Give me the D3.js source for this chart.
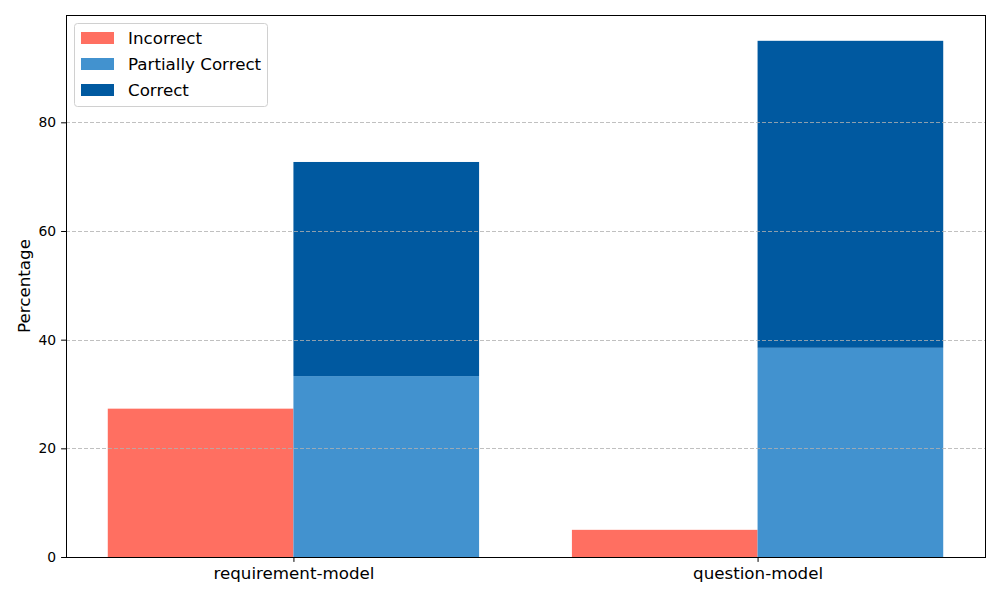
<!DOCTYPE html>
<html>
<head>
<meta charset="utf-8">
<script src="https://cdn.jsdelivr.net/npm/d3@7"></script>
<style>
  body { margin: 0; background: #fff; }
  text { font-family: "DejaVu Sans", sans-serif; }
</style>
</head>
<body>
<div id="chart"></div>
<script>
// data
var categories = ['requirement-model', 'question-model'];
var incorrect = [27.3, 5.0];
var partial = [33.3, 38.5];
var correct = [39.4, 56.5];
var yTicks = [0, 20, 40, 60, 80];

var colors = {
    incorrect: '#ff6f61',
    partial: '#4292cf',
    correct: '#0059a0'
};

var W = 1000, H = 600;
// plot area edges (note: "top" clashes with window.top, so prefix them)
var pLeft = 66, pRight = 985, pTop = 15, pBottom = 557;

var svg = d3.select('#chart')
    .append('svg')
        .attr('width', W)
        .attr('height', H);

// category positions 0, 1 with bars of width 0.4 either side
var x = d3.scaleLinear().domain([-0.49, 1.49]).range([pLeft, pRight]);
var y = d3.scaleLinear().domain([0, 99.75]).range([pBottom, pTop]);
var barW = 0.4;

var idx = d3.range(categories.length);

// incorrect bars, left of the tick
svg.append('g').selectAll('rect')
    .data(idx)
    .enter().append('rect')
        .attr('x', function (i) { return x(i - barW); })
        .attr('width', function () { return x(barW) - x(0); })
        .attr('y', function (i) { return y(incorrect[i]); })
        .attr('height', function (i) { return y(0) - y(incorrect[i]); })
        .attr('fill', colors.incorrect);

// partial bars, right of the tick
svg.append('g').selectAll('rect')
    .data(idx)
    .enter().append('rect')
        .attr('x', function (i) { return x(i); })
        .attr('width', function () { return x(barW) - x(0); })
        .attr('y', function (i) { return y(partial[i]); })
        .attr('height', function (i) { return y(0) - y(partial[i]); })
        .attr('fill', colors.partial);

// correct stacked on partial
svg.append('g').selectAll('rect')
    .data(idx)
    .enter().append('rect')
        .attr('x', function (i) { return x(i); })
        .attr('width', function () { return x(barW) - x(0); })
        .attr('y', function (i) { return y(partial[i] + correct[i]); })
        .attr('height', function (i) { return y(partial[i]) - y(partial[i] + correct[i]); })
        .attr('fill', colors.correct);

// grid on top of bars
svg.append('g').selectAll('line')
    .data(yTicks.slice(1))
    .enter().append('line')
        .attr('x1', pLeft)
        .attr('x2', pRight)
        .attr('y1', function (d) { return Math.round(y(d)) + 0.5; })
        .attr('y2', function (d) { return Math.round(y(d)) + 0.5; })
        .attr('stroke', '#b0b0b0')
        .attr('stroke-opacity', 0.8)
        .attr('stroke-width', 1)
        .attr('stroke-dasharray', '4,2');

// axes
var yAxis = d3.axisLeft(y).tickValues(yTicks).tickSize(4.9).tickPadding(5);
svg.append('g')
    .attr('transform', 'translate(' + pLeft + ',0)')
    .call(yAxis)
    .call(function (g) {
        g.select('.domain').remove();
        g.selectAll('text').attr('font-size', 13.9).attr('fill', '#000')
            .style('font-family', '"DejaVu Sans", sans-serif');
        g.selectAll('line').attr('stroke', '#000').attr('stroke-width', 1);
    });

var xAxis = d3.axisBottom(x).tickValues(idx)
    .tickFormat(function (i) { return categories[i]; })
    .tickSize(4.9).tickPadding(5);
svg.append('g')
    .attr('transform', 'translate(0,' + pBottom + ')')
    .call(xAxis)
    .call(function (g) {
        g.select('.domain').remove();
        g.selectAll('text').attr('font-size', 16.7).attr('fill', '#000')
            .style('font-family', '"DejaVu Sans", sans-serif');
        g.selectAll('line').attr('stroke', '#000').attr('stroke-width', 1);
    });

// frame
svg.append('rect')
    .attr('x', pLeft + 0.5)
    .attr('y', pTop + 0.5)
    .attr('width', pRight - pLeft)
    .attr('height', pBottom - pTop)
    .attr('fill', 'none')
    .attr('stroke', '#000')
    .attr('stroke-width', 1);

svg.append('text')
    .attr('transform', 'translate(30,' + ((pTop + pBottom) / 2) + ') rotate(-90)')
    .attr('text-anchor', 'middle')
    .attr('font-size', 16.7)
    .text('Percentage');

// legend
var legendItems = [
    { label: 'Incorrect', color: colors.incorrect },
    { label: 'Partially Correct', color: colors.partial },
    { label: 'Correct', color: colors.correct }
];

var legend = svg.append('g');
legend.append('rect')
    .attr('x', 74.5)
    .attr('y', 23.5)
    .attr('width', 193)
    .attr('height', 83)
    .attr('rx', 3)
    .attr('fill', '#fff')
    .attr('fill-opacity', 0.8)
    .attr('stroke', '#d0d0d0');

var row = legend.selectAll('g.item')
    .data(legendItems)
    .enter().append('g')
        .attr('class', 'item')
        .attr('transform', function (d, i) { return 'translate(81,' + (38 + i * 26) + ')'; });

row.append('rect')
    .attr('x', 0)
    .attr('y', -6)
    .attr('width', 33)
    .attr('height', 12)
    .attr('fill', function (d) { return d.color; });

row.append('text')
    .attr('x', 47)
    .attr('y', 6)
    .attr('font-size', 16.7)
    .text(function (d) { return d.label; });
</script>
</body>
</html>
